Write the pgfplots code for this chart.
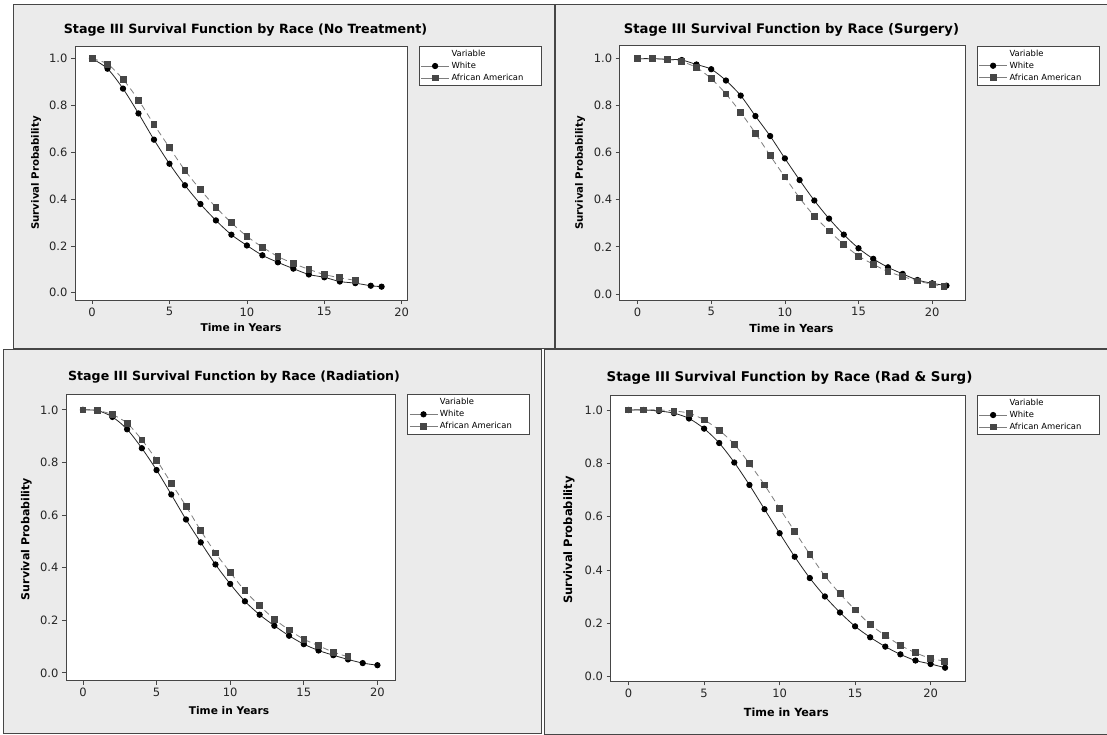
\documentclass[border=0pt]{standalone}
\usepackage{fontspec}
\setmainfont{DejaVu Sans}
\usepackage{pgfplots}
\pgfplotsset{compat=1.18}
\definecolor{panelbg}{RGB}{235,235,235}
\definecolor{frame}{RGB}{70,70,70}
\definecolor{aaline}{RGB}{125,125,125}
\definecolor{aamark}{RGB}{70,70,70}
\pgfplotsset{
  km/.style={
    scale only axis,
    axis background/.style={fill=white},
    axis line style={draw=frame, line width=0.9pt},
    tick style={draw=frame, line width=0.7pt},
    tick align=outside, major tick length=4pt,
    xtick pos=bottom, ytick pos=left,
    xtick={0,5,10,15,20},
    ytick={0,0.2,0.4,0.6,0.8,1},
    yticklabel style={/pgf/number format/.cd, fixed, fixed zerofill, precision=1},
    ticklabel style={font=\fontsize{11.5}{13}\selectfont, text=black!85},
    /pgf/number format/assume math mode=true,
    clip=false,
    legend style={at={(1,1)}, anchor=north west, xshift=11.5pt,
      draw=frame, line width=0.8pt, fill=white,
      font=\fontsize{8.4}{10}\selectfont, inner sep=1.8pt, row sep=0pt,
      cells={anchor=west}},
    legend cell align=left,
    legend image code/.code={
      \draw[mark repeat=2,mark phase=2,##1,solid,draw=aaline] plot coordinates {(0pt,0pt) (14pt,0pt) (28pt,0pt)};
    },
  },
  wh/.style={black!85, line width=0.8pt, smooth, mark=*, mark size=2.7pt, mark options={solid, fill=black, draw=black}},
  aa/.style={aaline, line width=0.8pt, smooth, dash pattern=on 6pt off 4pt, mark=square*, mark size=2.9pt, mark options={solid, fill=aamark, draw=aamark}},
}
\newcommand{\ttl}[1]{\fontsize{#1}{15}\selectfont\bfseries}
\newcommand{\lbl}[1]{\fontsize{#1}{13}\selectfont\bfseries}
\newcommand{\pad}{\rule{14pt}{0pt}}
\begin{document}
\begin{tikzpicture}
\path[fill=white, use as bounding box] (0pt,0pt) rectangle (1107pt,-734pt);
% panels
\draw[fill=panelbg, draw=frame, line width=1pt] (13pt,-4pt) rectangle (554pt,-348pt);
\draw[fill=panelbg, draw=frame, line width=1pt] (555pt,-4pt) rectangle (1107pt,-348pt);
\draw[fill=panelbg, draw=frame, line width=1pt] (3pt,-349pt) rectangle (541pt,-733pt);
\draw[fill=panelbg, draw=frame, line width=1pt] (544pt,-349pt) rectangle (1107pt,-734pt);

% ---------- Panel 1: No Treatment
\begin{axis}[km, at={(75pt,-300pt)}, anchor=south west, width=332pt, height=254pt,
  xmin=-1.10, xmax=20.34, ymin=-0.031, ymax=1.054]
\addlegendimage{empty legend}
\addplot[wh] coordinates {(0,1) (1,0.957) (2,0.872) (3,0.766) (4,0.654) (5,0.551) (6,0.459) (7,0.379) (8,0.309) (9,0.248) (10,0.202) (11,0.160) (12,0.130) (13,0.103) (14,0.078) (15,0.066) (16,0.048) (17,0.041) (18,0.030) (18.7,0.026)};
\addplot[aa] coordinates {(0,1) (1,0.977) (2,0.912) (3,0.823) (4,0.719) (5,0.620) (6,0.523) (7,0.440) (8,0.365) (9,0.299) (10,0.241) (11,0.195) (12,0.155) (13,0.125) (14,0.100) (15,0.078) (16,0.064) (17,0.053)};
\legend{Variable, White, African American\pad}
\end{axis}
\node[font=\ttl{12.7}, anchor=base] at (245.5pt,-33.3pt) {Stage III Survival Function by Race (No Treatment)};
\node[font=\lbl{10.2}, rotate=90] at (36pt,-173pt) {Survival Probability};
\node[font=\lbl{10.7}] at (241pt,-328pt) {Time in Years};

% ---------- Panel 2: Surgery
\begin{axis}[km, at={(619.6pt,-300pt)}, anchor=south west, width=345.4pt, height=254.3pt,
  xmin=-1.22, xmax=22.23, ymin=-0.026, ymax=1.055]
\addlegendimage{empty legend}
\addplot[wh] coordinates {(0,1) (1,1) (2,0.997) (3,0.994) (4,0.975) (5,0.955) (6,0.907) (7,0.843) (8,0.756) (9,0.671) (10,0.576) (11,0.484) (12,0.397) (13,0.320) (14,0.252) (15,0.194) (16,0.149) (17,0.113) (18,0.085) (19,0.059) (20,0.045) (20.97,0.035)};
\addplot[aa] coordinates {(0,1) (1,1) (2,0.997) (3,0.987) (4,0.962) (5,0.915) (6,0.850) (7,0.771) (8,0.683) (9,0.588) (10,0.497) (11,0.408) (12,0.331) (13,0.268) (14,0.210) (15,0.161) (16,0.126) (17,0.095) (18,0.074) (19,0.055) (20,0.041) (20.8,0.031)};
\legend{Variable, White, African American\pad}
\end{axis}
\node[font=\ttl{13.2}, anchor=base] at (791.5pt,-33.3pt) {Stage III Survival Function by Race (Surgery)};
\node[font=\lbl{10.2}, rotate=90] at (580pt,-173pt) {Survival Probability};
\node[font=\lbl{11.1}] at (791.4pt,-328pt) {Time in Years};

% ---------- Panel 3: Radiation
\begin{axis}[km, at={(66pt,-680.7pt)}, anchor=south west, width=329.4pt, height=286.4pt,
  xmin=-1.15, xmax=21.22, ymin=-0.030, ymax=1.059]
\addlegendimage{empty legend}
\addplot[wh] coordinates {(0,1) (1,0.997) (2,0.973) (3,0.926) (4,0.854) (5,0.771) (6,0.678) (7,0.583) (8,0.496) (9,0.412) (10,0.338) (11,0.272) (12,0.221) (13,0.179) (14,0.141) (15,0.109) (16,0.085) (17,0.067) (18,0.051) (19,0.037) (20,0.029)};
\addplot[aa] coordinates {(0,1) (1,0.997) (2,0.982) (3,0.949) (4,0.886) (5,0.809) (6,0.721) (7,0.634) (8,0.541) (9,0.456) (10,0.382) (11,0.312) (12,0.255) (13,0.204) (14,0.163) (15,0.128) (16,0.103) (17,0.079) (18,0.061)};
\legend{Variable, White, African American\pad}
\end{axis}
\node[font=\ttl{12.6}, anchor=base] at (234pt,-380.7pt) {Stage III Survival Function by Race (Radiation)};
\node[font=\lbl{11}, rotate=90] at (26.4pt,-539pt) {Survival Probability};
\node[font=\lbl{10.6}] at (229pt,-710.7pt) {Time in Years};

% ---------- Panel 4: Rad & Surg
\begin{axis}[km, at={(610.5pt,-681.3pt)}, anchor=south west, width=354.5pt, height=286.3pt,
  xmin=-1.2, xmax=22.28, ymin=-0.017, ymax=1.056]
\addlegendimage{empty legend}
\addplot[wh] coordinates {(0,1) (1,1) (2,0.996) (3,0.988) (4,0.968) (5,0.930) (6,0.876) (7,0.803) (8,0.719) (9,0.628) (10,0.538) (11,0.450) (12,0.370) (13,0.301) (14,0.241) (15,0.189) (16,0.148) (17,0.113) (18,0.084) (19,0.061) (20,0.048) (20.96,0.034)};
\addplot[aa] coordinates {(0,1) (1,1) (2,1) (3,0.996) (4,0.988) (5,0.963) (6,0.924) (7,0.871) (8,0.799) (9,0.719) (10,0.631) (11,0.545) (12,0.459) (13,0.378) (14,0.311) (15,0.251) (16,0.196) (17,0.155) (18,0.118) (19,0.090) (20,0.069) (20.9,0.059)};
\legend{Variable, White, African American\pad}
\end{axis}
\node[font=\ttl{13.4}, anchor=base] at (789.5pt,-381pt) {Stage III Survival Function by Race (Rad \& Surg)};
\node[font=\lbl{11.5}, rotate=90] at (569pt,-540pt) {Survival Probability};
\node[font=\lbl{11.2}] at (786.3pt,-712.7pt) {Time in Years};
\end{tikzpicture}
\end{document}
